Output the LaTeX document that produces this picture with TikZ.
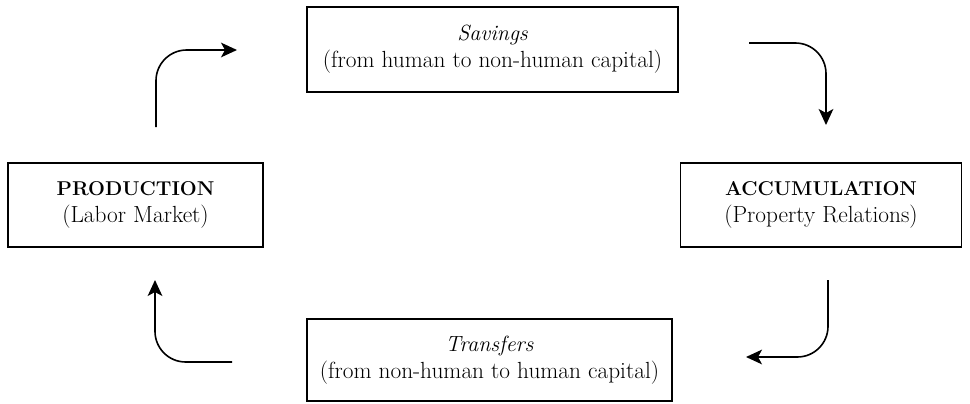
\documentclass[tikz,border=0pt]{standalone}
\usetikzlibrary{arrows.meta}
\newcommand{\boxhead}[1]{{\fontsize{15}{20}\selectfont\bfseries #1}}
\newcommand{\boxital}[1]{{\fontsize{16.5}{20}\selectfont\itshape #1}}
\begin{document}
\begin{tikzpicture}[x=0.75pt,y=-0.75pt,
  box/.style={draw, line width=1.1pt, align=center, inner sep=0pt,
    font=\fontsize{17.5}{20}\selectfont},
  flow/.style={line width=1.2pt, rounded corners=23pt,
    -{Stealth[length=12pt,width=11pt,inset=3pt]}}]
\useasboundingbox (0,0) rectangle (970,403);
\node[box, minimum width=278pt, minimum height=64pt] (sav) at (492.5,49.5)
  {\boxital{Savings}\\(from human to non-human capital)};
\node[box, minimum width=191pt, minimum height=63pt] (prod) at (135.5,205)
  {\boxhead{PRODUCTION}\\(Labor Market)};
\node[box, minimum width=211pt, minimum height=63pt] (acc) at (821,205)
  {\boxhead{ACCUMULATION}\\(Property Relations)};
\node[box, minimum width=274pt, minimum height=61.5pt] (tra) at (489.5,360)
  {\boxital{Transfers}\\(from non-human to human capital)};
% arrow end points
\coordinate (a1s) at (156,127);
\coordinate (a1c) at (156,50);
\coordinate (a1e) at (237,50);
\coordinate (a2s) at (749,43);
\coordinate (a2c) at (826,43);
\coordinate (a2e) at (826,125);
\coordinate (a3s) at (232,362);
\coordinate (a3c) at (155,362);
\coordinate (a3e) at (155,280);
\coordinate (a4s) at (828,280);
\coordinate (a4c) at (828,357);
\coordinate (a4e) at (746,357);
\draw[flow] (a1s) -- (a1c) -- (a1e);
\draw[flow] (a2s) -- (a2c) -- (a2e);
\draw[flow] (a3s) -- (a3c) -- (a3e);
\draw[flow] (a4s) -- (a4c) -- (a4e);
\end{tikzpicture}
\end{document}
